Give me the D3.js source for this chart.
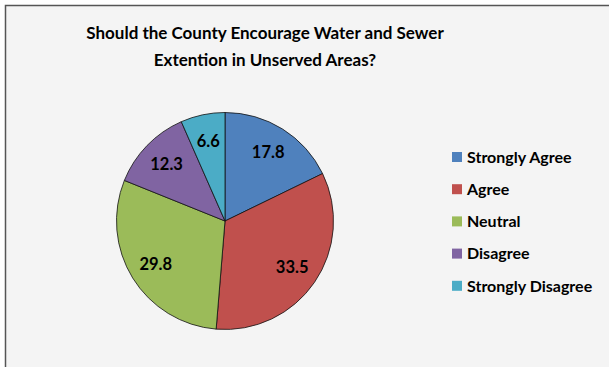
<!DOCTYPE html>
<html>
<head>
<meta charset="utf-8">
<script src="https://cdn.jsdelivr.net/npm/d3@7"></script>
<style>
  body { margin: 0; background: #ffffff; }
  svg { display: block; font-family: Lato, "Open Sans", sans-serif; }
</style>
</head>
<body>
<svg id="chart"></svg>
<script>
// Should the County Encourage Water and Sewer Extention in Unserved Areas?

var categories = ["Strongly Agree", "Agree", "Neutral", "Disagree", "Strongly Disagree"];
var values = [17.8, 33.5, 29.8, 12.3, 6.6];
var colors = ["#4F81BD", "#C0504D", "#9BBB59", "#8064A2", "#4BACC6"];
var titleLines = ["Should the County Encourage Water and Sewer", "Extention in Unserved Areas?"];

var dimensions = {
    width: 609,
    height: 367,
    cx: 225,
    cy: 221,
    radius: 108.5
}

var svg = d3.select("#chart")
    .attr("width", dimensions.width)
    .attr("height", dimensions.height);

// chart area background + border
svg.append("rect")
    .attr("x", 5.5)
    .attr("y", 5.5)
    .attr("width", dimensions.width + 10)
    .attr("height", dimensions.height + 10)
    .attr("fill", "#f4f4f4")
    .attr("stroke", "#555")
    .attr("stroke-width", 1.5);

var data = categories.map((c, i) => ({ category: c, value: values[i] }));

var color = d3.scaleOrdinal()
    .domain(categories)
    .range(colors);

var pie = d3.pie()
    .value(d => d.value)
    .sort(null);

var arc = d3.arc()
    .innerRadius(0)
    .outerRadius(dimensions.radius);

var labelArc = d3.arc()
    .innerRadius(dimensions.radius * 0.75)
    .outerRadius(dimensions.radius * 0.75);

var g = svg.append("g")
    .attr("transform", `translate(${dimensions.cx},${dimensions.cy})`);

g.selectAll(".slice")
    .data(pie(data))
    .enter()
    .append("path")
    .attr("class", "slice")
    .attr("d", arc)
    .attr("fill", d => color(d.data.category))
    .attr("stroke", "#111")
    .attr("stroke-width", 0.8);

g.selectAll(".label")
    .data(pie(data))
    .enter()
    .append("text")
    .attr("class", "label")
    .attr("transform", d => `translate(${labelArc.centroid(d)})`)
    .attr("text-anchor", "middle")
    .attr("dy", ".36em")
    .style("font-size", "16.5px")
    .style("font-weight", "bold")
    .style("fill", "#000")
    .text(d => d.data.value.toFixed(1));

// title
svg.selectAll(".title")
    .data(titleLines)
    .enter()
    .append("text")
    .attr("class", "title")
    .attr("x", 265)
    .attr("y", (d, i) => 39 + i * 27)
    .attr("text-anchor", "middle")
    .style("font-size", "17px")
    .style("font-weight", "bold")
    .style("fill", "#000")
    .text(d => d);

// legend
var legend = svg.selectAll(".legend")
    .data(categories)
    .enter()
    .append("g")
    .attr("class", "legend")
    .attr("transform", (d, i) => `translate(452,${157 + i * 32.2})`);

legend.append("rect")
    .attr("x", 0)
    .attr("y", -5)
    .attr("width", 10)
    .attr("height", 10)
    .attr("fill", d => color(d));

legend.append("text")
    .attr("x", 15)
    .attr("y", 0)
    .attr("dy", ".36em")
    .style("font-size", "16px")
    .style("font-weight", "bold")
    .style("fill", "#000")
    .text(d => d);
</script>
</body>
</html>
